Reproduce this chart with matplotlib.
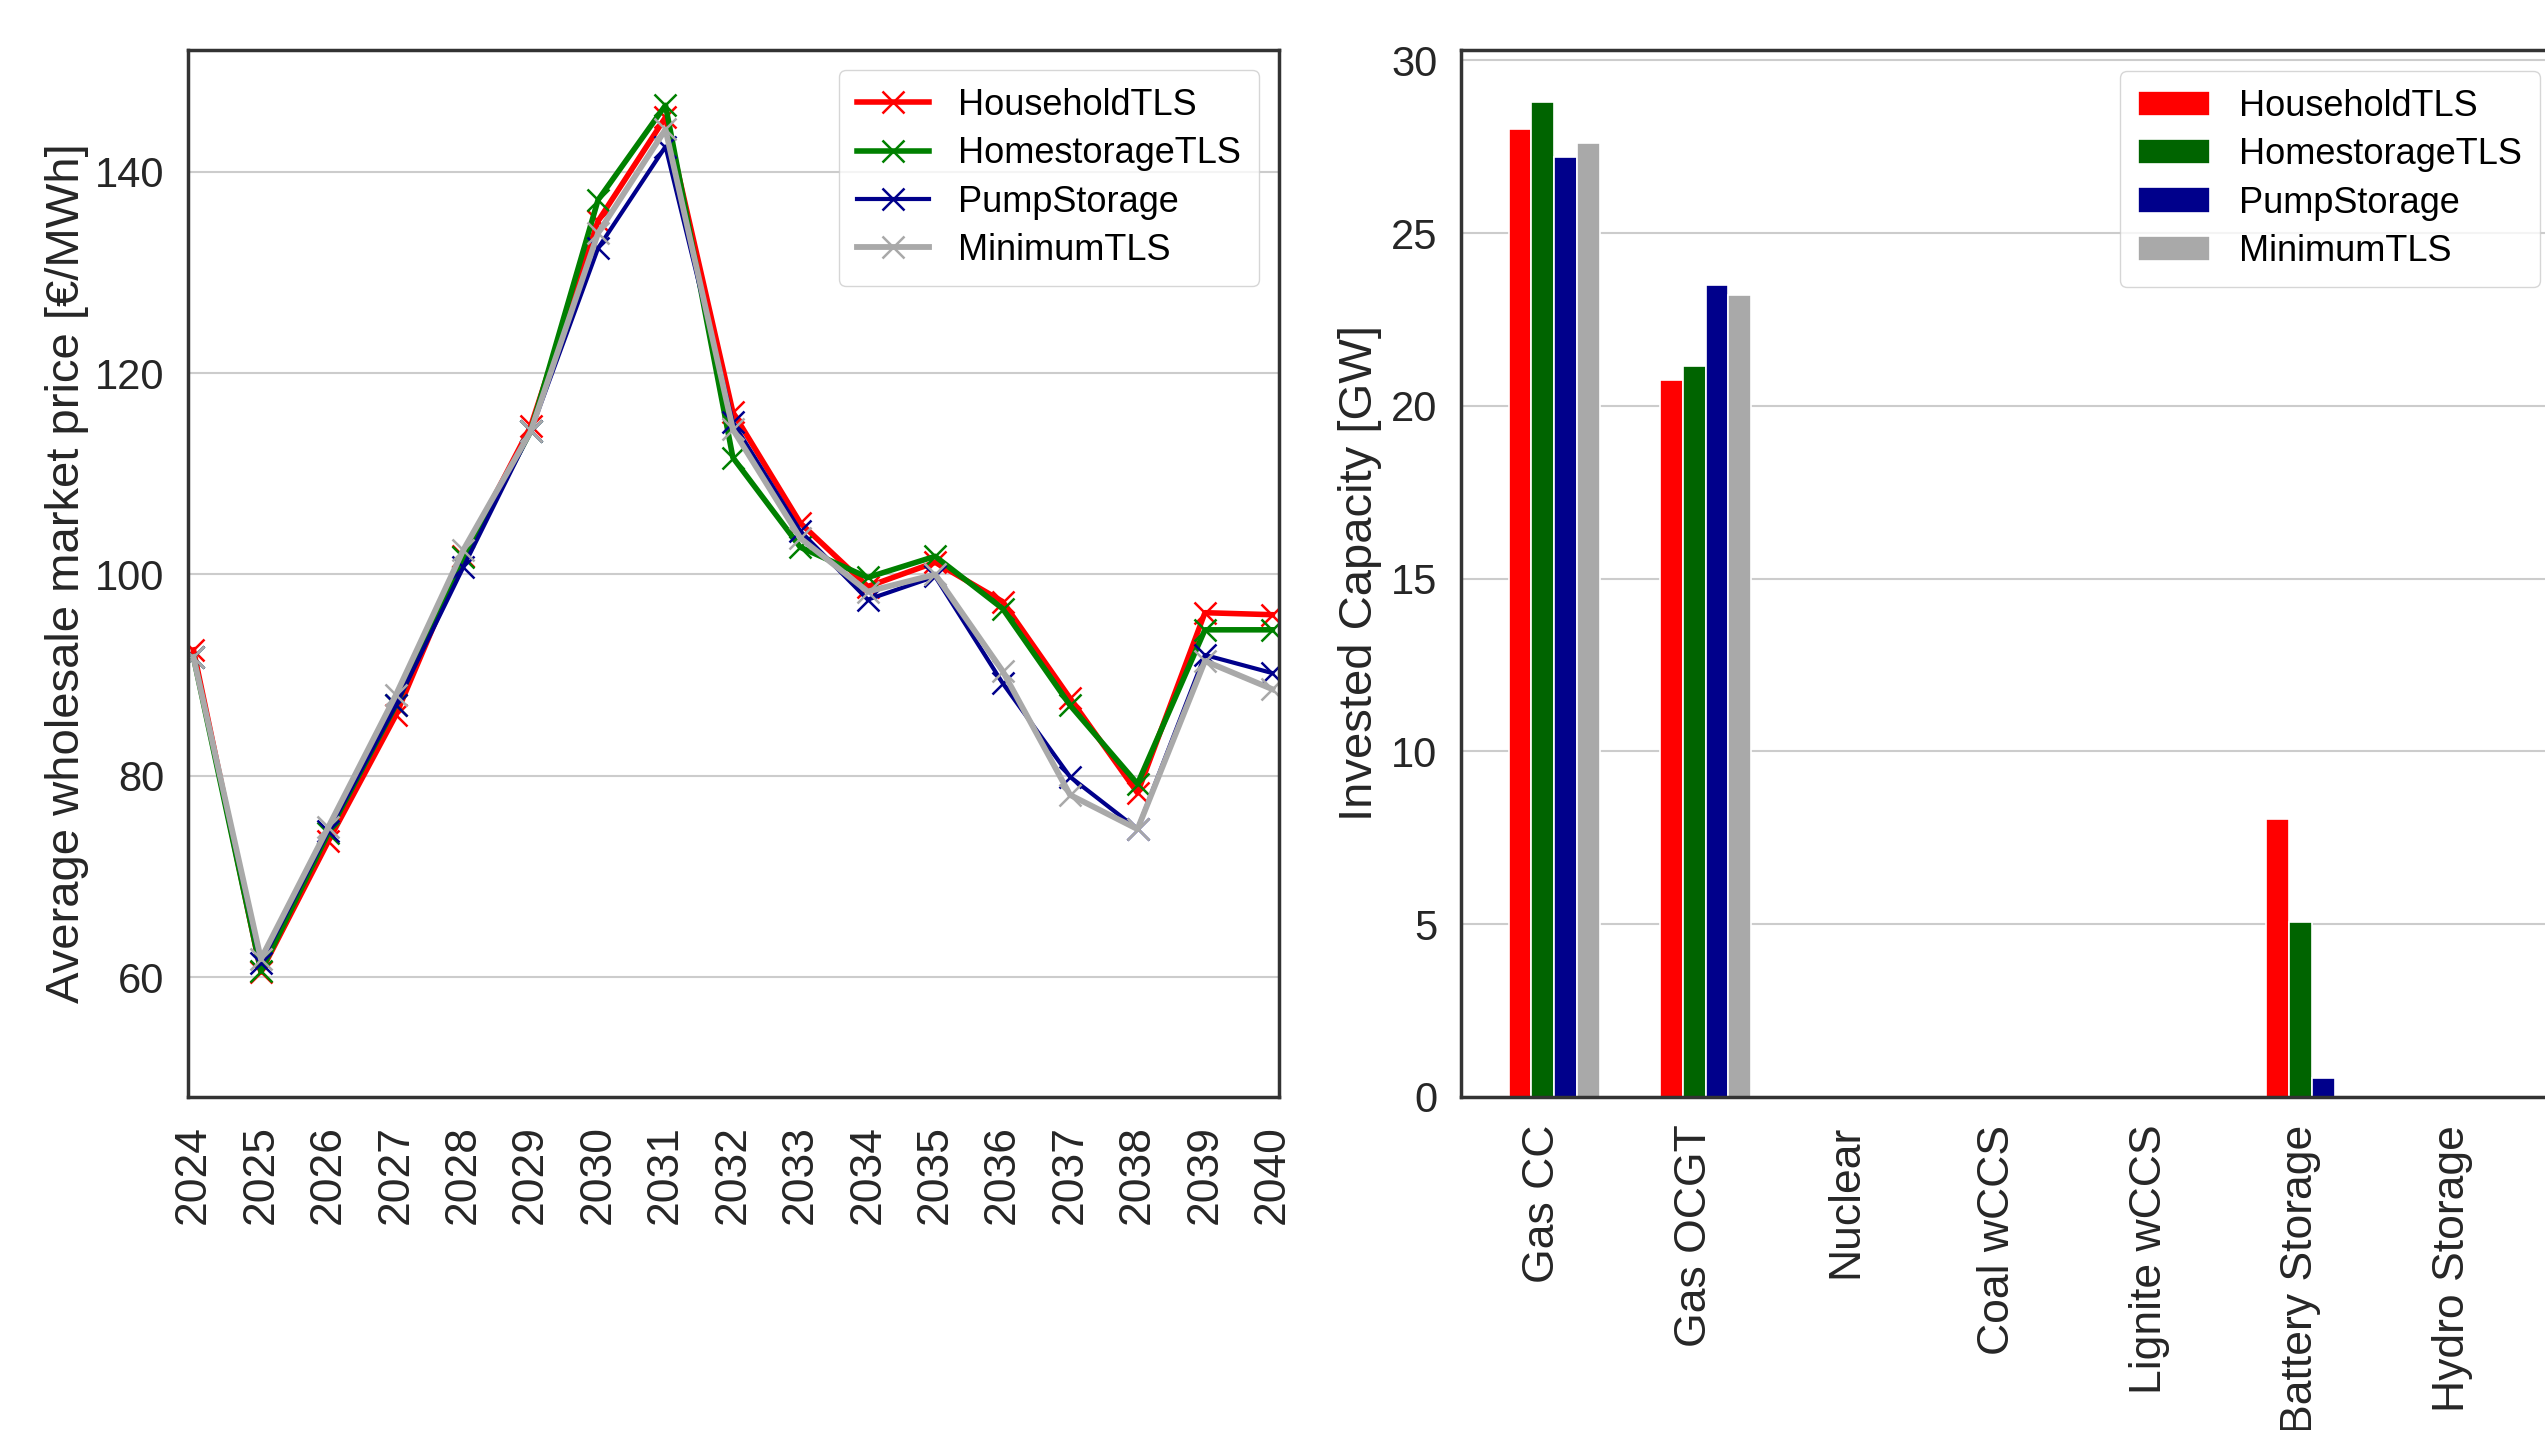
import matplotlib
matplotlib.use("Agg")
import matplotlib.pyplot as plt
import numpy as np

plt.rcParams["font.family"] = ["Liberation Sans", "DejaVu Sans"]

# ------------------------
# Data
# ------------------------

years = list(range(2024, 2041))

price_household = [92.5, 60.5, 73.5, 86.0, 101.8, 114.7, 135.1, 145.4, 116.1,
                   105.1, 98.8, 101.2, 97.3, 87.7, 78.3, 96.2, 96.0]
price_homestorage = [91.8, 60.6, 74.3, 87.0, 101.7, 114.2, 137.2, 146.6, 111.6,
                     102.7, 99.7, 101.8, 96.6, 87.0, 79.2, 94.5, 94.5]
price_pumpstorage = [91.8, 61.4, 74.5, 87.0, 100.7, 114.2, 132.4, 142.5, 115.1,
                     104.3, 97.5, 99.8, 89.2, 79.9, 74.7, 92.0, 90.2]
price_minimum = [91.8, 61.8, 74.9, 88.0, 102.4, 114.2, 133.9, 144.2, 114.4,
                 103.6, 98.3, 100.0, 90.4, 78.1, 74.7, 91.4, 88.6]

technologies = ["Gas CC", "Gas OCGT", "Nuclear", "Coal wCCS", "Lignite wCCS",
                "Battery Storage", "Hydro Storage"]

cap_household = [28.0, 20.75, 0, 0, 0, 8.05, 0]
cap_homestorage = [28.8, 21.15, 0, 0, 0, 5.05, 0]
cap_pumpstorage = [27.2, 23.5, 0, 0, 0, 0.55, 0]
cap_minimum = [27.6, 23.2, 0, 0, 0, 0, 0]

scenarios = ["HouseholdTLS", "HomestorageTLS", "PumpStorage", "MinimumTLS"]
line_colors = ["red", "green", "darkblue", "darkgray"]
bar_colors = ["red", "#006400", "darkblue", "darkgray"]

# ------------------------
# Figure
# ------------------------

fig = plt.figure(figsize=(25.45, 14.3), dpi=100)

ax1 = fig.add_axes([0.0739, 0.2329, 0.4287, 0.7322])
ax2 = fig.add_axes([0.574, 0.2329, 0.461, 0.7322])

for ax in (ax1, ax2):
    ax.set_axisbelow(True)
    ax.yaxis.grid(True, color="0.8", linewidth=1.5)
    for sp in ax.spines.values():
        sp.set_color("0.2")
        sp.set_linewidth(2.5)
    ax.tick_params(axis="both", length=0, labelcolor="0.15")
    ax.tick_params(axis="y", pad=17, labelsize=30)
    ax.tick_params(axis="x", pad=20, labelsize=32)

# ------------------------
# Left: prices
# ------------------------

price_series = [price_household, price_homestorage, price_pumpstorage, price_minimum]
line_widths = [4.0, 4.0, 3.0, 4.2]
for vals, name, col, lw in zip(price_series, scenarios, line_colors, line_widths):
    ax1.plot(years, vals, color=col, linewidth=lw, marker="x",
             markersize=16, markeredgewidth=1.8, label=name)

ax1.set_xlim(2023.92, 2040.1)
ax1.set_ylim(48.1, 152.1)
ax1.set_yticks([60, 80, 100, 120, 140])
ax1.set_xticks(years)
ax1.set_xticklabels([str(y) for y in years], rotation=90)
ax1.set_ylabel("Average wholesale market price [€/MWh]", fontsize=34,
               color="0.15", labelpad=4)

ax1.legend(loc="upper right", fontsize=26, frameon=True, edgecolor="0.8",
           borderaxespad=0.55, labelspacing=0.37, borderpad=0.5)

# ------------------------
# Right: invested capacity
# ------------------------

x = np.arange(len(technologies))
width = 0.15
cap_series = [cap_household, cap_homestorage, cap_pumpstorage, cap_minimum]
for i, (vals, name, col) in enumerate(zip(cap_series, scenarios, bar_colors)):
    ax2.bar(x + (i - 1) * width, vals, width, color=col, edgecolor="white",
            linewidth=1.2, label=name)

ax2.set_xlim(-0.54, 7.2)
ax2.set_ylim(0, 30.3)
ax2.set_yticks([0, 5, 10, 15, 20, 25, 30])
ax2.set_xticks(x)
ax2.set_xticklabels(technologies, rotation=90)
ax2.set_ylabel("Invested Capacity [GW]", fontsize=34, color="0.15", labelpad=6)

ax2.legend(loc="upper left", bbox_to_anchor=(2120 / 2545, 1 - 71 / 1430),
           bbox_transform=fig.transFigure, borderaxespad=0, fontsize=26,
           frameon=True, edgecolor="0.8", labelspacing=0.37, borderpad=0.5)

fig.savefig("out.png", dpi=100)
